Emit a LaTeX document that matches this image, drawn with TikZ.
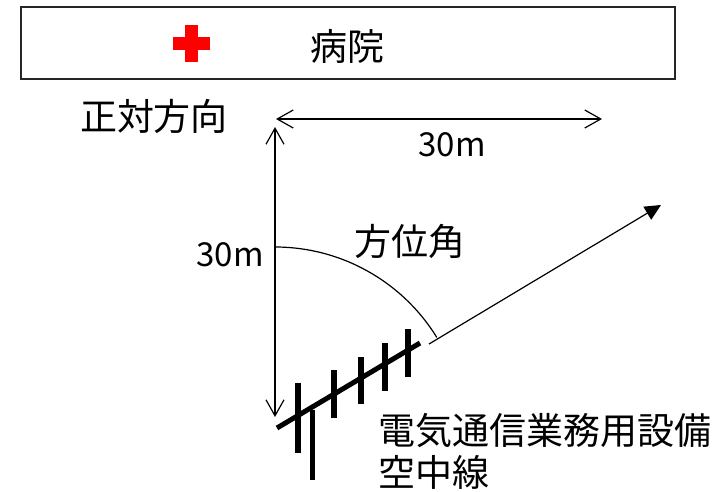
\documentclass[tikz,border=0pt]{standalone}
\usepackage{fontspec}
\setmainfont{Noto Sans CJK JP}
\usetikzlibrary{arrows.meta}
\begin{document}
\begin{tikzpicture}[x=1pt,y=-1pt,
  lbl/.style={inner sep=0pt,font=\fontsize{37}{42}\selectfont},
  numlbl/.style={inner sep=0pt,font=\fontsize{33}{40}\selectfont},
  thin/.style={line width=1.2pt},
  dimarrow/.style={thin,{Straight Barb[length=16pt,width=18pt]}-{Straight Barb[length=16pt,width=18pt]}},
  elem/.style={line width=6pt},
  boom/.style={line width=5pt}]
\useasboundingbox (0,0) rectangle (724,491);
% hospital box
\node[draw=black!85,line width=1.6pt,minimum width=654pt,minimum height=72pt,inner sep=0pt] (hosp) at (348,43) {};
\fill[red] (172.5,36.5) rectangle (209.5,49.5);
\fill[red] (184.5,24.5) rectangle (197.5,61.5);
\node[lbl] (hosptext) at (347,46) {病院};
\node[lbl] (front) at (154,116) {正対方向};
% dimension arrows
\coordinate (hl) at (276,119);
\coordinate (hr) at (602,119);
\draw[dimarrow] (hl) -- (hr);
\node[numlbl] (dimh) at (452,145) {30m};
\coordinate (vt) at (275,127);
\coordinate (vb) at (275,417);
\draw[dimarrow] (vt) -- (vb);
\node[numlbl] (dimv) at (230,255) {30m};
% azimuth
\coordinate (arcs) at (275,247);
\draw[thin] (arcs) arc[start angle=-90,end angle=-31.6,radius=190];
\node[lbl] (azi) at (410,241) {方位角};
\coordinate (ds) at (429,344);
\coordinate (de) at (661,205);
\draw[thin,-{Triangle[length=16pt,width=15pt]}] (ds) -- (de);
% antenna
\coordinate (b1) at (277,428);
\coordinate (b2) at (420,343);
\draw[boom] (b1) -- (b2);
\draw[elem] (298,383) -- (298,453);
\draw[elem] (334,370) -- (334,418);
\draw[elem] (361,357) -- (361,404);
\draw[elem] (385,343) -- (385,391);
\draw[elem] (408,329) -- (408,377);
\draw[boom] (312,410) -- (312,480);
\node[lbl,anchor=west] (ant1) at (378,431) {電気通信業務用設備};
\node[lbl,anchor=west] (ant2) at (378,472) {空中線};
\end{tikzpicture}
\end{document}
